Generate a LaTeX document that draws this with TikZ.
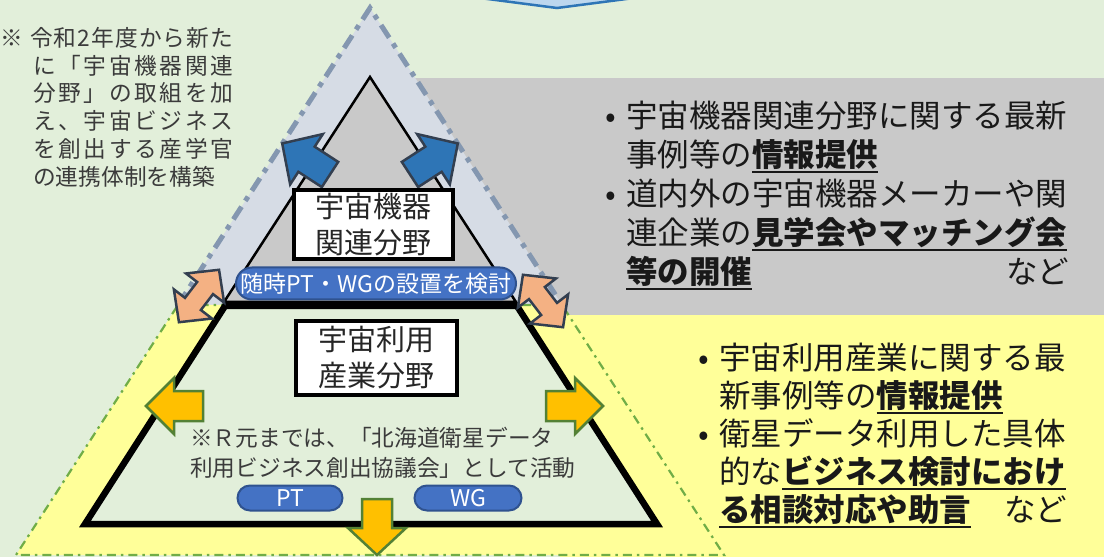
\documentclass[tikz,border=0pt]{standalone}
\usepackage{fontspec}
\setmainfont{Noto Sans CJK JP}
\usepackage{tikz}

\definecolor{bggreen}{HTML}{E2EFDA}
\definecolor{kikigray}{HTML}{C9C9C9}
\definecolor{kikiblue}{HTML}{D6DCE5}
\definecolor{kikidash}{HTML}{8497B0}
\definecolor{riyouyellow}{HTML}{FFFF99}
\definecolor{riyoudash}{HTML}{70AD47}
\definecolor{pillblue}{HTML}{4472C4}
\definecolor{pillline}{HTML}{2F528F}
\definecolor{arrowgold}{HTML}{FFC000}
\definecolor{arrowgreen}{HTML}{538135}
\definecolor{arrowblue}{HTML}{2E75B6}
\definecolor{arrowslate}{HTML}{333F50}
\definecolor{arrowsalmon}{HTML}{F4B183}
\definecolor{topblue}{HTML}{BDD7EE}
\definecolor{textgray}{HTML}{3B3B3B}

% bold + thick underline
\newsavebox{\ulbox}
\newcommand{\emul}[1]{\leavevmode\sbox{\ulbox}{\bfseries #1}\rlap{\rule[-0.2em]{\wd\ulbox}{0.075em}}\usebox{\ulbox}}
\newcommand{\bul}{\leavevmode\llap{\makebox[21bp][l]{•}}}
% spread the characters of a line over a given width
\makeatletter
\newcommand{\spread}[2]{\hbox to #1{\@tfor\@ch:=#2\do{\@ch\hfil}\unskip}}
\makeatother
% block arrow: style, tail, angle, length, head length, head half width, shaft half width
\newcommand{\blockarrow}[7]{%
  \draw[#1, shift={#2}, rotate=#3] (0,-#7) -- ({#4-#5},-#7) -- ({#4-#5},-#6) -- (#4,0)
    -- ({#4-#5},#6) -- ({#4-#5},#7) -- (0,#7) -- cycle;}

\begin{document}
\begin{tikzpicture}[x=1bp, y=-1bp,
    kikiline/.style={draw=kikidash, line width=5bp, dash pattern=on 15bp off 7bp on 5bp off 7bp},
    riyouline/.style={draw=riyoudash, line width=2.2bp, dash pattern=on 9bp off 5bp on 2.5bp off 5bp},
    fieldbox/.style={draw=black, fill=white, line width=4.5bp, inner sep=0pt, align=center, text=black!85, font=\fontsize{29bp}{36bp}\selectfont},
    pill/.style={draw=pillline, fill=pillblue, line width=2bp, inner sep=0pt, text=white, font=\fontsize{23bp}{23bp}\selectfont},
    goldarrow/.style={draw=arrowgreen, fill=arrowgold, line width=2.5bp},
    bluearrow/.style={draw=arrowslate, fill=arrowblue, line width=2.5bp},
    salmonarrow/.style={draw=arrowslate, fill=arrowsalmon, line width=2.5bp},
    note/.style={inner sep=0pt, align=left, text=textgray, anchor=north west},
    infotext/.style={inner sep=0pt, align=left, text=black!90, anchor=north west}]
    \useasboundingbox (0,0) rectangle (1104,557);
    \fill[bggreen] (0,0) rectangle (1104,557);

    % arrow coming from above
    \filldraw[fill=topblue, draw=arrowblue, line width=2.5bp] (480,-2) -- (557,8) -- (634,-2) -- (634,-20) -- (480,-20) -- cycle;

    % backgrounds of the two info areas
    \fill[kikigray] (400,78) rectangle (1104,315);
    \fill[riyouyellow] (560,315) rectangle (1104,557);

    % big triangle: upper and lower part
    \fill[kikiblue] (370,8) -- (562,305) -- (178,305) -- cycle;
    \fill[riyouyellow] (178,305) -- (562,305) -- (724,555) -- (16,555) -- cycle;
    \draw[kikiline] (178,305) -- (370,8) -- (562,305);
    \draw[riyouline] (178,305) -- (562,305) -- (724,555) -- (16,555) -- cycle;

    % inner triangle and trapezoid
    \draw[fill=kikigray, line width=2.5bp] (370,77) -- (516,302) -- (224,302) -- cycle;
    \draw[fill=bggreen, line width=6.5bp] (225,306) -- (517,306) -- (657,524) -- (85,524) -- cycle;

    % arrows
    \blockarrow{bluearrow}{(330,174.5)}{147}{57}{29}{30}{15}
    \blockarrow{bluearrow}{(410,174.5)}{33}{57}{29}{30}{15}
    \draw[salmonarrow, shift={(199,296)}, rotate=52.6] (-33,0) -- (-10,-24) -- (-10,-10) -- (10,-10) -- (10,-24)
        -- (33,0) -- (10,24) -- (10,10) -- (-10,10) -- (-10,24) -- cycle;
    \draw[salmonarrow, shift={(543,301)}, rotate=127.4] (-33,0) -- (-10,-24) -- (-10,-10) -- (10,-10) -- (10,-24)
        -- (33,0) -- (10,24) -- (10,10) -- (-10,10) -- (-10,24) -- cycle;
    \blockarrow{goldarrow}{(203,406)}{180}{57}{28}{28}{15}
    \blockarrow{goldarrow}{(546,406)}{0}{57}{28}{28}{15}
    \blockarrow{goldarrow}{(377,499)}{-90}{56}{27}{29}{15}

    % field boxes and pills
    \node[fieldbox, minimum width=159bp, minimum height=69bp] (kiki) at (373.5,224.5) {宇宙機器\\関連分野};
    \node[fieldbox, minimum width=161bp, minimum height=74bp] (riyou) at (376.5,358) {宇宙利用\\産業分野};
    \node[pill, minimum width=280bp, minimum height=32bp, rounded corners=16bp] (kentou) at (376,283.5) {随時PT・WGの設置を検討};
    \node[pill, minimum width=105bp, minimum height=25bp, rounded corners=12.5bp] (pt) at (290,498) {PT};
    \node[pill, minimum width=107bp, minimum height=25bp, rounded corners=12.5bp] (wg) at (468,498) {WG};

    % notes
    \node[note, font=\fontsize{22.7bp}{27.8bp}\selectfont] (henkou) at (33,27)
        {\leavevmode\llap{※\hspace{10.3bp}}\hspace*{-3bp}\spread{203bp}{令和2年度から新た}\\
         \spread{200bp}{に「宇宙機器関連}\\
         \spread{200bp}{分野」の取組を加}\\
         \spread{200bp}{え、宇宙ビジネス}\\
         \spread{200bp}{を創出する産学官}\\
         の連携体制を構築};
    \node[note, font=\fontsize{22.7bp}{30bp}\selectfont] (gangen) at (190,427)
        {※Ｒ元までは、「北海道衛星データ\\利用ビジネス創出協議会」として活動};

    % info texts
    \node[infotext, text width=443bp, font=\fontsize{31.5bp}{39bp}\selectfont] (kikiinfo) at (626,101)
        {\bul 宇宙機器関連分野に関する最新\\
         事例等の\emul{情報提供}\\
         \bul 道内外の宇宙機器メーカーや関\\
         連企業の\emul{見学会やマッチング会}\\
         \emul{等の開催}\hfill など};
    \node[infotext, text width=348bp, font=\fontsize{31.5bp}{38bp}\selectfont] (riyouinfo) at (719,343)
        {\bul 宇宙利用産業に関する最\\
         新事例等の\emul{情報提供}\\
         \bul 衛星データ利用した具体\\
         的な\emul{ビジネス検討におけ}\\
         \emul{る相談対応や助言}\hfill など};
\end{tikzpicture}
\end{document}
